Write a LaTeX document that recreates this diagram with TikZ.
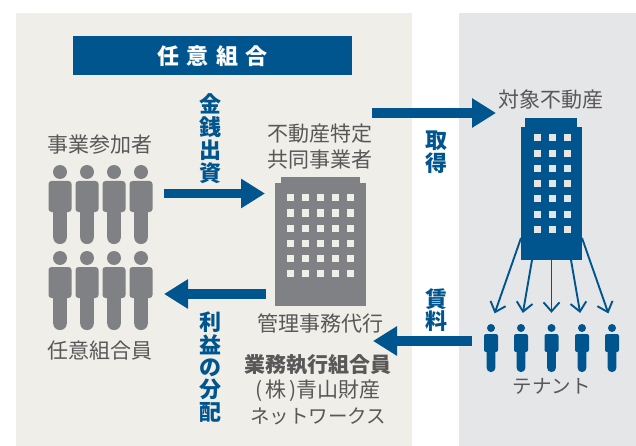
\documentclass[tikz,border=0pt]{standalone}
\usepackage{fontspec}
\setmainfont{Noto Sans CJK JP}
\usetikzlibrary{positioning,arrows.meta}
\definecolor{kumiblue}{HTML}{00558F}
\definecolor{tategray}{HTML}{808184}
\definecolor{beige}{HTML}{F0EEE8}
\definecolor{lightgray}{HTML}{E5E6E8}
\definecolor{textgray}{HTML}{595757}

\begin{document}
\begin{tikzpicture}[
	x=1pt, y=-1pt,
	tstyle/.style={text=textgray, inner sep=0pt, font=\fontsize{21pt}{26pt}\selectfont, align=center},
	vstyle/.style={text=kumiblue, inner sep=0pt, align=center},
	bstyle/.style={draw=none, inner sep=0pt, minimum width=#1, anchor=north west},
	barrow/.style={kumiblue, line width=9.5pt, -{Triangle[length=24pt,width=28pt]}},
	tarrow/.style={kumiblue, line width=1.9pt, shorten >=11pt, -{Straight Barb[length=9pt,width=16pt,line width=1.9pt]}}
	]
	\useasboundingbox (0,0) rectangle (636,446);
	\fill[beige] (16,13) rectangle (412,446);
	\fill[lightgray] (459,13) rectangle (636,446);
	
	\node[fill=kumiblue, minimum width=279pt, minimum height=39pt, inner sep=0pt] (kumiai) at (212.5,56) 
	{\color{white}\fontsize{22pt}{22pt}\bfseries 任\hspace{7.5pt}意\hspace{7.5pt}組\hspace{7.5pt}合};
	
	\node[tstyle] (sanka) at (100,145) {事業参加者};
	\node[tstyle] (kumiin) at (100,351) {任意組合員};
	\foreach \x in {60,87,114,141} \foreach \dy in {0,86} {
		\fill[tategray] (\x,172+\dy) circle (7);
		\fill[tategray, rounded corners=3pt] (\x-11.5,181+\dy) rectangle (\x+11.5,212+\dy);
		\fill[tategray, rounded corners=6.5pt] (\x-6.8,200+\dy) rectangle (\x+6.8,244+\dy);
	}
	
	\node[tstyle] (tokutei) at (320,147) {不動産特定\\共同事業者};
	\node[bstyle=91pt, fill=tategray, minimum height=123pt] (kanri) at (275,183) {};
	\fill[tategray] (281,177) rectangle (360,184);
	\foreach \x in {290,305,320,335,350} \foreach \y in {198,213,228,243,258,273}
		\fill[beige] (\x-3.5,\y-3.5) rectangle (\x+3.5,\y+3.5);
	\node[tstyle] (daiko) at (320,323) {管理事務代行};
	\node[tstyle, font=\fontsize{21pt}{26pt}\bfseries] (shikko) at (318,365) {業務執行組合員};
	\node[tstyle] (aoyama) at (318,391) {(\hspace{3pt}株\hspace{3pt})青山財産};
	\node[tstyle, font=\fontsize{19.5pt}{26pt}\selectfont] (network) at (318,416) {ネットワークス};
	
	\node[tstyle] (taisho) at (551,100) {対象不動産};
	\node[bstyle=61pt, fill=kumiblue, minimum height=133pt] (biru) at (521,127) {};
	\fill[kumiblue] (525,118) rectangle (577,128);
	\foreach \x in {537,552,567} \foreach \y in {138,153.5,169,184,199,214,229}
		\fill[lightgray] (\x-3.5,\y-3.5) rectangle (\x+3.5,\y+3.5);
	
	\node[tstyle, font=\fontsize{19.5pt}{26pt}\selectfont] (tenant) at (551.5,386) {テナント};
	\foreach \x/\n in {491/1,521/2,551.5/3,582/4,612/5} {
		\node[circle, fill=kumiblue, minimum size=8pt, inner sep=0pt] (t\n) at (\x,328) {};
		\fill[kumiblue, rounded corners=2pt] (\x-7,334) rectangle (\x+7,352);
		\fill[kumiblue, rounded corners=4pt] (\x-4.3,345) rectangle (\x+4.3,372);
	}
	
	\coordinate (s1) at (521,238);
	\coordinate (s2) at (532,260);
	\coordinate (s3) at (551.5,260);
	\coordinate (s4) at (571,260);
	\coordinate (s5) at (582,238);
	\draw[tarrow] (s1) to (t1.north);
	\draw[tarrow] (s2) to (t2.north);
	\draw[tarrow] (s3) to (t3.north);
	\draw[tarrow] (s4) to (t4.north);
	\draw[tarrow] (s5) to (t5.north);
	
	\coordinate (a1) at (164,193.5);
	\coordinate (a2) at (265,193.5);
	\coordinate (b1) at (372,113);
	\coordinate (b2) at (496,113);
	\coordinate (c1) at (266,294);
	\coordinate (c2) at (164,294);
	\coordinate (d1) at (472,341);
	\coordinate (d2) at (373,341);
	\draw[barrow] (a1) to (a2);
	\draw[barrow] (b1) to (b2);
	\draw[barrow] (c1) to (c2);
	\draw[barrow] (d1) to (d2);
	
	\node[vstyle, font=\fontsize{22pt}{23pt}\bfseries] (shusshi) at (210.5,139) {金\\銭\\出\\資};
	\node[vstyle, font=\fontsize{22pt}{23pt}\bfseries] (shutoku) at (436,152.5) {取\\得};
	\node[vstyle, font=\fontsize{22pt}{22.4pt}\bfseries] (bunpai) at (210.5,367) {利\\益\\の\\分\\配};
	\node[vstyle, font=\fontsize{22pt}{22pt}\bfseries] (chinryo) at (436,310) {賃\\料};
\end{tikzpicture}
\end{document}
